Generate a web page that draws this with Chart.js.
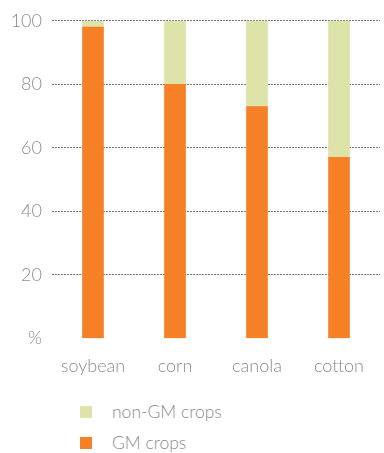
<!DOCTYPE html>
<html>
<head>
<meta charset="utf-8">
<script src="https://cdn.jsdelivr.net/npm/chart.js@4/dist/chart.umd.min.js"></script>
<style>
  body { margin: 0; background: #fff; font-family: Lato, sans-serif; }
  #wrap { position: relative; width: 384px; height: 392px; }
  #legend { margin: 4px 0 0 0; padding: 0 0 0 80px; list-style: none; }
  #legend li { display: flex; align-items: center; height: 31px; color: #8c8c8c; font-size: 17.5px; font-weight: 300; }
  #legend span.box { display: inline-block; width: 12px; height: 12px; margin-right: 20px; }
</style>
</head>
<body>
<div id="wrap"><canvas id="crops"></canvas></div>
<ul id="legend"></ul>
<script>
const crops = ['soybean', 'corn', 'canola', 'cotton']
const gmCrops = [98, 80, 73, 57]
const nonGmCrops = [2, 20, 27, 43]
const yTicks = [0, 20, 40, 60, 80, 100]

const ORANGE = '#f58025'
const PALE = '#dee3aa'
const GREY = '#8c8c8c'

Chart.defaults.font.family = 'Lato, sans-serif'
Chart.defaults.font.weight = 300
Chart.defaults.font.size = 18
Chart.defaults.color = GREY

const chart = new Chart(document.querySelector('#crops'), {
    type: 'bar',
    data: {
        labels: crops,
        datasets: [
            { label: 'GM crops', data: gmCrops, backgroundColor: ORANGE, barThickness: 21 },
            { label: 'non-GM crops', data: nonGmCrops, backgroundColor: PALE, barThickness: 21 }
        ]
    },
    options: {
        responsive: true,
        maintainAspectRatio: false,
        animation: false,
        layout: { padding: { top: 8, right: 4, left: 0, bottom: 6 } },
        plugins: { legend: { display: false }, tooltip: { enabled: false } },
        scales: {
            x: {
                stacked: true,
                grid: { display: false },
                border: { display: false },
                ticks: { padding: 9 }
            },
            y: {
                stacked: true,
                min: 0,
                max: 100,
                afterFit: (s) => { s.width = 52 },
                afterBuildTicks: (s) => { s.ticks = yTicks.map(v => ({ value: v })) },
                border: { display: false, dash: [2, 1] },
                grid: {
                    drawTicks: false,
                    color: (ctx) => ctx.tick && ctx.tick.value === 0 ? 'rgba(0,0,0,0)' : '#7a7a7a'
                },
                ticks: {
                    padding: 10,
                    callback: (v) => v === 0 ? '%' : v
                }
            }
        }
    }
})

// legend, non-GM listed first like the original
const legend = document.querySelector('#legend')
chart.data.datasets.slice().reverse().forEach(ds => {
    const li = document.createElement('li')
    li.innerHTML = `<span class="box" style="background:${ds.backgroundColor}"></span>${ds.label}`
    legend.appendChild(li)
})
</script>
</body>
</html>
